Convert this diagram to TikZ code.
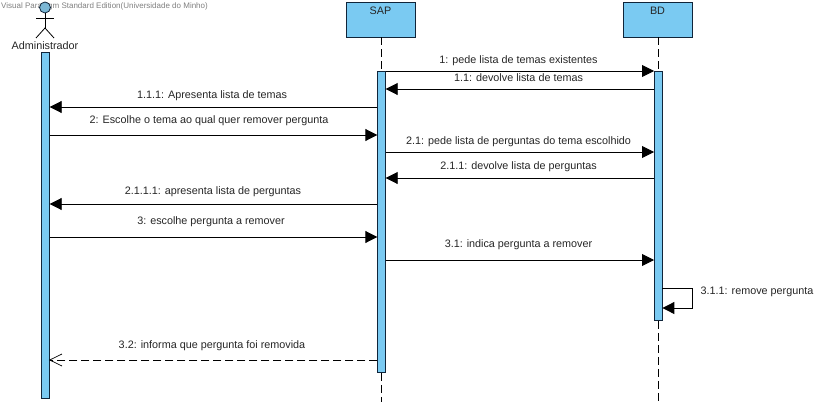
\documentclass[tikz,border=0pt]{standalone}
\usepackage{fontspec}
\setmainfont{Liberation Sans}
\usetikzlibrary{arrows.meta}
\definecolor{barblue}{HTML}{7ACAF2}
\definecolor{barline}{HTML}{10253A}
\tikzset{
  box/.style={draw=barline, fill=barblue, minimum width=69pt, minimum height=35pt, inner sep=0pt, line width=0.9pt},
  bar/.style={draw=barline, fill=barblue, minimum width=7.5pt, inner sep=0pt, line width=0.9pt, anchor=north},
  lifeline/.style={line width=0.9pt, dash pattern=on 8pt off 4pt},
  msg/.style={line width=0.9pt, -{Triangle[length=12pt,width=12pt]}},
  reply/.style={line width=0.7pt, dash pattern=on 8pt off 4pt},
  lbl/.style={font=\fontsize{10.8}{12}\selectfont, text=black!85, inner sep=0pt}
}
\begin{document}
\begin{tikzpicture}[x=1pt,y=-1pt]
        \useasboundingbox [fill=white] (0,0) rectangle (829,404);
        % marca
        \node [lbl, font=\fontsize{8}{9}\selectfont, text=black!50, anchor=west] (mark) at (1,6.5) {Visual Paradigm Standard Edition(Universidade do Minho)};
        % ator
        \node [circle, draw=barline, fill=barblue!75!gray, minimum size=11pt, inner sep=0pt, line width=0.8pt] (head) at (45,7.5) {};
        \coordinate (hip) at (45,28);
        \coordinate (armL) at (36,18);
        \coordinate (armR) at (54,18);
        \coordinate (footL) at (36,38);
        \coordinate (footR) at (54,38);
        \draw [line width=0.8pt] (head.south) -- (hip);
        \draw [line width=0.8pt] (armL) -- (armR);
        \draw [line width=0.8pt] (footL) -- (hip) -- (footR);
        \node [lbl] (adm) at (45,45.5) {Administrador};
        % caixas
        \node [box] (sap) at (380.5,19.5) {};
        \node [box] (bd) at (657.5,19.5) {};
        \node [lbl] at (380.5,10.5) {SAP};
        \node [lbl] at (657.5,10.5) {BD};
        % barras
        \node [bar, minimum height=346pt] (admbar) at (45.5,52) {};
        \node [bar, minimum height=301pt] (sapbar) at (381.5,71) {};
        \node [bar, minimum height=249pt] (bdbar) at (658.2,71) {};
        \coordinate (sapend) at (381.5,402);
        \coordinate (bdend) at (658.2,402);
        % linhas
        \draw [lifeline] (sap.south -| sapbar.north) -- (sapbar.north);
        \draw [lifeline] (sapbar.south) -- (sapend);
        \draw [lifeline] (bd.south -| bdbar.north) -- (bdbar.north);
        \draw [lifeline] (bdbar.south) -- (bdend);
        % mensagens
        \coordinate (r1) at (0,71);
        \coordinate (r2) at (0,89);
        \coordinate (r3) at (0,107);
        \coordinate (r4) at (0,135);
        \coordinate (r5) at (0,152);
        \coordinate (r6) at (0,178);
        \coordinate (r7) at (0,204);
        \coordinate (r8) at (0,237);
        \coordinate (r9) at (0,260);
        \coordinate (r10) at (0,360);
        \draw [msg] (sapbar.east |- r1) -- (bdbar.west |- r1);
        \draw [msg] (bdbar.west |- r2) -- (sapbar.east |- r2);
        \draw [msg] (sapbar.west |- r3) -- (admbar.east |- r3);
        \draw [msg] (admbar.east |- r4) -- (sapbar.west |- r4);
        \draw [msg] (sapbar.east |- r5) -- (bdbar.west |- r5);
        \draw [msg] (bdbar.west |- r6) -- (sapbar.east |- r6);
        \draw [msg] (sapbar.west |- r7) -- (admbar.east |- r7);
        \draw [msg] (admbar.east |- r8) -- (sapbar.west |- r8);
        \draw [msg] (sapbar.east |- r9) -- (bdbar.west |- r9);
        \draw [reply] (sapbar.west |- r10) -- (admbar.east |- r10);
        % ponta aberta
        \coordinate (barbA) at (62,354);
        \coordinate (barbB) at (62,366);
        \draw [line width=0.7pt] (barbA) -- (admbar.east |- r10) -- (barbB);
        % auto
        \coordinate (selfa) at (692.5,288);
        \coordinate (selfb) at (692.5,308);
        \draw [msg] (bdbar.east |- selfa) -- (selfa) -- (selfb) -- (bdbar.east |- selfb);
        % textos
        \node [lbl] (m1) at (518.5,60.5) {1: pede lista de temas existentes};
        \node [lbl] (m11) at (518.5,77.5) {1.1: devolve lista de temas};
        \node [lbl] (m111) at (212,96) {1.1.1: Apresenta lista de temas};
        \node [lbl] (m2) at (209,120.5) {2: Escolhe o tema ao qual quer remover pergunta};
        \node [lbl] (m21) at (518.5,141.5) {2.1: pede lista de perguntas do tema escolhido};
        \node [lbl] (m211) at (518.5,167) {2.1.1: devolve lista de perguntas};
        \node [lbl] (m2111) at (213,192) {2.1.1.1: apresenta lista de perguntas};
        \node [lbl] (m3) at (211,221.5) {3: escolhe pergunta a remover};
        \node [lbl] (m31) at (518.5,244.5) {3.1: indica pergunta a remover};
        \node [lbl] (m311) at (757,292) {3.1.1: remove pergunta};
        \node [lbl] (m32) at (212,345.5) {3.2: informa que pergunta foi removida};
    \end{tikzpicture}
\end{document}
